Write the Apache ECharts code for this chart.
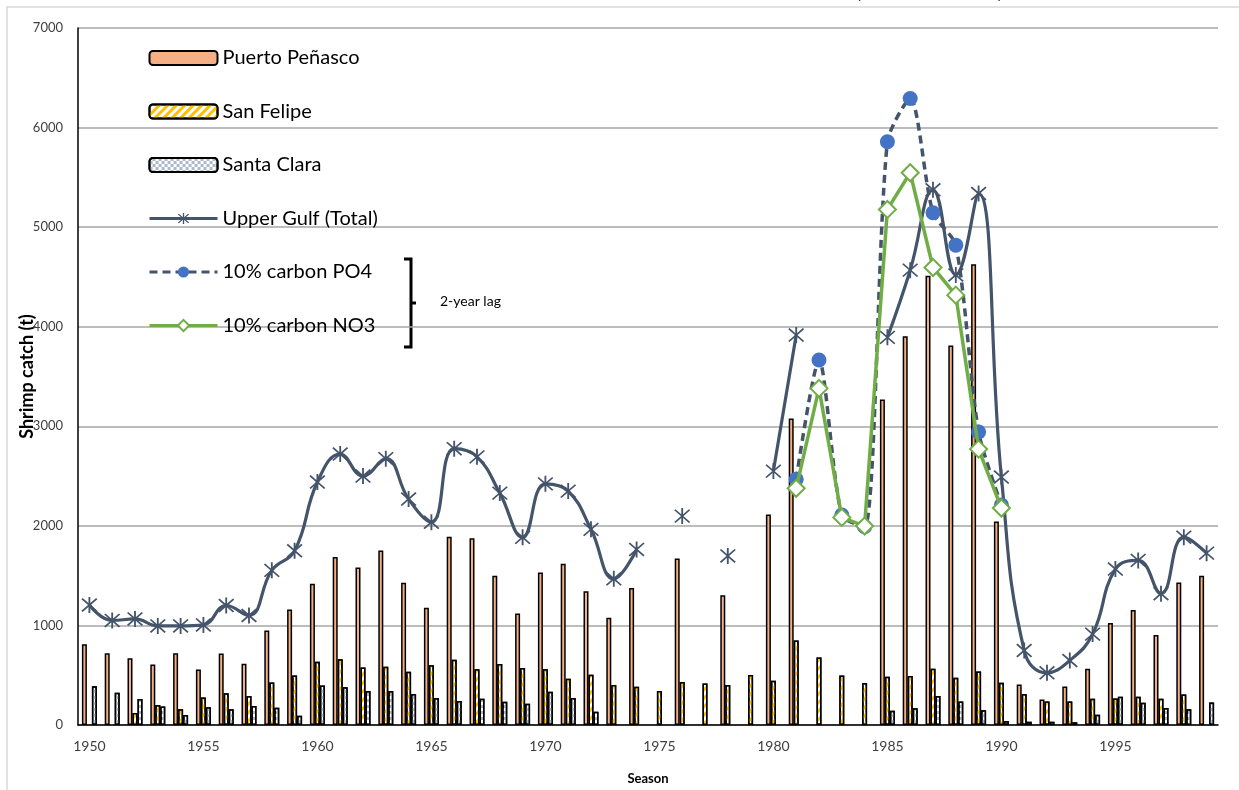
<!DOCTYPE html>
<html>
<head>
<meta charset="utf-8">
<script src="https://cdn.jsdelivr.net/npm/echarts@6/dist/echarts.min.js"></script>
<style>
  html, body { margin: 0; padding: 0; background: #fff; }
  #main { width: 1239px; height: 790px; }
</style>
</head>
<body>
<div id="main"></div>
<script>
var years = []
for (var y = 1950; y <= 1999; y++) years.push(String(y))

// Puerto Peñasco catch (t)
var penasco = [812, 721, 671, 607, 721, 557, 718, 614, 950, 1161,
    1419, 1687, 1581, 1752, 1428, 1177, 1890, 1876, 1498, 1120,
    1532, 1619, 1344, 1077, 1375, null, 1672, null, 1304, null,
    2114, 3077, null, null, null, 3268, 3905, 4511, 3812, 4628,
    2043, 407, 257, 387, 564, 1025, 1155, 905, 1432, 1499]

var sanFelipe = [null, null, 121, 201, 158, 275, 319, 292, 426, 497,
    634, 661, 577, 585, 535, 599, 656, 559, 612, 572,
    559, 465, 505, 401, 385, 341, 431, 418, 401, 502,
    445, 849, 679, 498, 421, 485, 492, 565, 474, 538,
    424, 311, 237, 237, 264, 267, 284, 264, 307, null]

var santaClara = [389, 325, 262, 185, 101, 178, 158, 191, 174, 94,
    396, 379, 342, 341, 311, 271, 241, 264, 234, 214,
    334, 271, 134, null, null, null, null, null, null, null,
    null, null, null, null, null, 144, 167, 291, 237, 147,
    37, 33, 33, 27, 104, 284, 224, 170, 157, 227]

var upperGulf = [1205, 1050, 1065, 995, 995, 1005, 1200, 1100, 1553, 1750,
    2440, 2721, 2500, 2675, 2269, 2037, 2775, 2693, 2329, 1885,
    2422, 2349, 1965, 1468, 1763, null, 2098, null, 1698, null,
    2550, 3916, null, null, null, 3893, 4568, 5375, 4520, 5338,
    2490, 748, 524, 648, 913, 1566, 1653, 1319, 1886, 1726]

// model runs (2-year lag)
var po4 = [null, null, null, null, null, null, null, null, null, null,
    null, null, null, null, null, null, null, null, null, null,
    null, null, null, null, null, null, null, null, null, null,
    null, 2467, 3665, 2108, 1991, 5857, 6292, 5144, 4819, 2942,
    2209, null, null, null, null, null, null, null, null, null]

var no3 = [null, null, null, null, null, null, null, null, null, null,
    null, null, null, null, null, null, null, null, null, null,
    null, null, null, null, null, null, null, null, null, null,
    null, 2377, 3381, 2085, 1998, 5178, 5546, 4595, 4317, 2771,
    2179, null, null, null, null, null, null, null, null, null]

var font = 'Lato, "Open Sans", sans-serif'
var slate = '#44546A'

// asterisk marker (x + vertical bar)
var asterisk = 'path://M9,0 L11,0 L11,20 L9,20 Z ' +
    'M1.3,2.7 L2.7,1.3 L18.7,17.3 L17.3,18.7 Z ' +
    'M17.3,1.3 L18.7,2.7 L2.7,18.7 L1.3,17.3 Z'

var chart = echarts.init(document.getElementById('main'))

var option = {
    animation: false,
    backgroundColor: '#fff',
    textStyle: { fontFamily: font },
    grid: { left: 78, right: 21, top: 28, bottom: 65, containLabel: false },
    legend: {
        orient: 'vertical',
        left: 143,
        top: 41,
        itemWidth: 68,
        itemHeight: 14,
        itemGap: 29.5,
        lineStyle: { width: 3 },
        textStyle: { fontSize: 20, color: '#000', fontFamily: font, lineHeight: 24 },
        data: ['Puerto Peñasco', 'San Felipe', 'Santa Clara', 'Upper Gulf (Total)',
            '10% carbon PO4', '10% carbon NO3']
    },
    xAxis: {
        type: 'category',
        data: years,
        boundaryGap: true,
        name: 'Season',
        nameLocation: 'middle',
        nameGap: 47,
        nameTextStyle: { fontSize: 13, fontWeight: 'bold', color: '#000', fontFamily: font },
        axisLine: { lineStyle: { color: '#000', width: 1.5 } },
        axisTick: { show: false },
        axisLabel: { interval: 4, fontSize: 14, color: '#404040', margin: 14, fontFamily: font },
        splitLine: { show: false }
    },
    yAxis: {
        type: 'value',
        min: 0,
        max: 7000,
        interval: 1000,
        name: 'Shrimp catch (t)',
        nameLocation: 'middle',
        nameRotate: 90,
        nameGap: 42,
        nameMoveOverlap: false,
        nameTextStyle: { fontSize: 18, fontWeight: 'bold', color: '#000', fontFamily: font },
        axisLine: { show: true, lineStyle: { color: '#000', width: 1.5 } },
        axisTick: { show: false },
        axisLabel: {
            fontSize: 13, color: '#404040', margin: 15, fontFamily: font,
            formatter: function (v) { return String(v) }
        },
        splitLine: { lineStyle: { color: '#a6a6a6', width: 1.5 } }
    },
    series: [
        {
            name: 'Puerto Peñasco',
            type: 'bar',
            data: penasco,
            barWidth: 5,
            barGap: '0%',
            itemStyle: { color: '#F4AF84', borderColor: '#000', borderWidth: 1.5 }
        },
        {
            name: 'San Felipe',
            type: 'bar',
            data: sanFelipe,
            barWidth: 5,
            barGap: '0%',
            itemStyle: {
                color: '#ffffff', borderColor: '#000', borderWidth: 1.5,
                decal: {
                    symbol: 'rect', color: '#FFC000', symbolSize: 1,
                    dashArrayX: [1, 0], dashArrayY: [3, 3], rotation: -Math.PI / 4
                }
            }
        },
        {
            name: 'Santa Clara',
            type: 'bar',
            data: santaClara,
            barWidth: 5,
            barGap: '0%',
            itemStyle: {
                color: '#ffffff', borderColor: '#000', borderWidth: 1.5,
                decal: {
                    symbol: 'rect', color: '#ADB9CA', symbolSize: 1,
                    dashArrayX: [[3, 3], [0, 3, 3, 0]], dashArrayY: [3, 0]
                }
            }
        },
        {
            name: 'Upper Gulf (Total)',
            type: 'line',
            data: upperGulf,
            smooth: 0.45,
            connectNulls: false,
            showAllSymbol: true,
            symbol: asterisk,
            symbolSize: 16,
            z: 5,
            lineStyle: { color: slate, width: 3.2 },
            itemStyle: { color: slate }
        },
        {
            name: '10% carbon PO4',
            type: 'line',
            data: po4,
            smooth: 0.25,
            showAllSymbol: true,
            symbol: 'circle',
            symbolSize: 15,
            z: 6,
            lineStyle: { color: slate, width: 3.5, type: [8, 5] },
            itemStyle: { color: '#4472C4' }
        },
        {
            name: '10% carbon NO3',
            type: 'line',
            data: no3,
            showAllSymbol: true,
            symbol: 'emptyDiamond',
            symbolSize: 17,
            z: 7,
            lineStyle: { color: '#70AD47', width: 3.5 },
            itemStyle: { color: '#70AD47', borderColor: '#70AD47', borderWidth: 2 }
        }
    ],
    graphic: [
        // outer chart frame
        { type: 'rect', shape: { x: 7, y: 7, width: 1300, height: 900 },
          style: { fill: null, stroke: '#d9d9d9', lineWidth: 1.5 }, silent: true },
        // bracket for the lagged runs
        { type: 'polyline', shape: { points: [[404, 259], [411, 259], [411, 347], [404, 347]] },
          style: { stroke: '#000', lineWidth: 3, fill: null } },
        { type: 'line', shape: { x1: 411, y1: 303, x2: 416, y2: 303 },
          style: { stroke: '#000', lineWidth: 3 } },
        { type: 'text', left: 440, top: 294,
          style: { text: '2-year lag', fontSize: 14, fill: '#000', fontFamily: font } },
        // cut-off heading fragments at the very top
        { type: 'text', left: 852, top: -38,
          style: { text: '(', fontSize: 40, fill: '#000', fontFamily: font } },
        { type: 'text', left: 996, top: -38,
          style: { text: ')', fontSize: 40, fill: '#000', fontFamily: font } }
    ]
}

chart.setOption(option)
</script>
</body>
</html>
